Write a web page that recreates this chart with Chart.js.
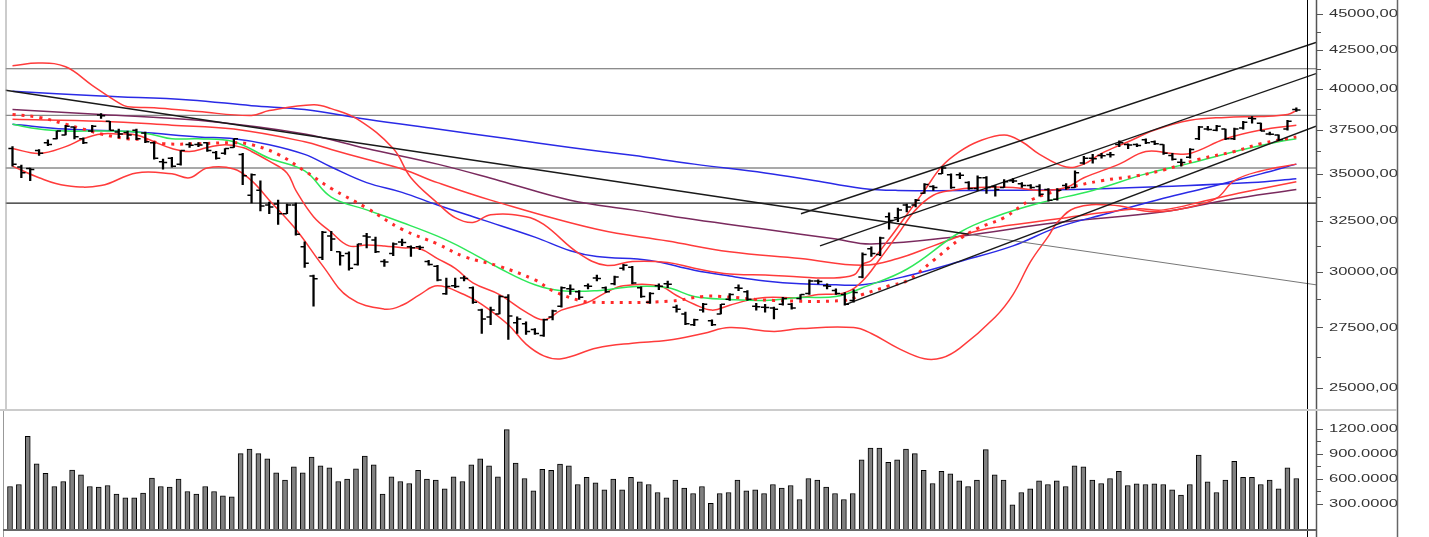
<!DOCTYPE html>
<html>
<head>
<meta charset="utf-8">
<script src="https://cdn.jsdelivr.net/npm/chart.js@4.4.1/dist/chart.umd.min.js"></script>
<style>
  html, body { margin: 0; padding: 0; background: #fff; }
  #wrap { position: relative; width: 1429px; height: 537px; overflow: hidden; }
  #priceChart { position: absolute; left: 0; top: 0; }
  #volChart { position: absolute; left: 0; top: 409px; }
</style>
</head>
<body>
<div id="wrap">
  <canvas id="priceChart" width="1429" height="409"></canvas>
  <canvas id="volChart" width="1429" height="128"></canvas>
</div>
<script>
// --- daily bars (oldest first) ---
const opens = [36410,35370,35290,36300,36750,36970,37200,37660,36970,37430,38380,38000,37370,37340,37480,37310,36750,35660,35860,35530,
  36640,36640,36750,36190,36140,36470,36080,33840,34100,33330,33380,32870,33330,31210,29810,30690,31740,30970,30880,30360,
  31740,31540,30500,30880,31450,31210,31210,30500,30270,28990,29360,29720,29270,28260,27960,28090,28830,27700,27660,27410,
  27160,27960,28430,29220,29090,29360,29720,29270,29450,30180,30220,29270,28610,29360,29450,28390,28090,27620,28260,27790,
  28090,28740,29270,29090,28430,28390,28350,28520,28520,28780,29000,29580,29360,29140,28960,28690,29770,31110,30830,32720,
  32670,33330,33330,33940,34310,35000,34940,34940,34520,34200,34780,34310,34260,34620,34460,34360,34310,34150,33630,34360,
  34260,35590,35860,36020,36080,36640,36640,36640,36920,36800,36640,36020,35640,35920,36970,37540,37480,37540,36970,37600,
  38180,37890,37260,37200,37540,38710];
const highs = [36520,35480,35320,36360,36920,37430,37770,37660,37030,37770,38470,38000,37540,37430,37540,37370,36800,35810,35920,36300,
  36750,36750,36750,36250,36410,36970,36140,35000,34620,33480,33580,33380,33430,31450,29860,31980,31980,30970,30970,31350,
  31880,31690,30590,31400,31590,31260,31260,30550,30320,29720,29720,29810,29310,28300,28390,28910,28960,27960,27750,27450,
  27870,28260,29310,29400,29140,29450,29860,29310,29810,30360,30270,29310,29050,29450,29580,28480,28170,27870,28560,27830,
  28520,29000,29400,29140,28560,28520,28390,28830,28560,28960,29630,29630,29450,29220,29050,29180,30920,31210,31690,32920,
  33170,33380,33630,34460,34360,35370,35000,35050,34570,34890,34840,34360,34680,34730,34520,34410,34410,34200,34200,34460,
  35160,35970,36080,36140,36190,36860,36690,36690,36970,36860,36640,36140,35810,36410,37710,37710,37770,37540,37600,38000,
  38290,37890,37370,37200,38060,38820];
const lows = [35420,34780,34620,36020,36580,36970,37200,36970,36690,37370,38180,37480,37030,36970,36920,36750,35810,35260,35370,35480,
  36470,36520,36250,35810,36080,36470,34410,33430,33020,32870,32320,32870,31790,30220,28430,30590,31020,30320,30090,30320,
  31160,30920,30270,30780,31260,30740,31070,30320,29580,28960,29270,29580,28560,27240,27620,28090,26990,27240,27200,27200,
  27120,27830,28390,28960,28740,29220,29580,29050,29400,30090,29450,28830,28560,29180,29270,28170,27620,27580,28170,27580,
  28090,28690,29140,28690,28260,28170,27870,28480,28300,28740,28960,29450,29220,28960,28480,28610,29720,30740,30780,32080,
  32470,32970,33220,33940,34100,35000,34200,34730,34150,34100,33940,33790,34260,34520,34260,34200,33790,33530,33580,34150,
  34260,35530,35590,35860,35920,36520,36410,36520,36690,36640,36080,35750,35420,35860,36920,37480,37430,36920,36920,37540,
  37890,37430,37200,36860,37480,38590];
const closes = [35530,35050,35240,36140,36640,37430,37710,37090,36750,37710,38330,37480,37260,37200,36970,36800,35860,35620,35420,36300,
  36600,36620,36300,35860,36410,36970,34890,34940,33280,33220,32870,33330,31830,30410,29680,31930,31590,30780,30180,31350,
  31700,30970,30480,31350,31420,31160,31180,30360,29630,29330,29330,29700,28610,27870,28260,28870,28000,27870,27330,27240,
  27830,28220,29270,29200,28830,29340,29700,29090,29770,30320,29490,28870,29000,29340,29430,28300,27660,27830,28520,27620,
  28520,28960,29250,28740,28410,28370,28300,28780,28350,28960,29580,29560,29340,29000,28520,29050,30830,30880,31640,32520,
  33070,33220,33580,34410,34260,35320,34260,34920,34200,34780,34260,34150,34570,34600,34360,34260,33890,33580,34100,34260,
  35050,35860,35840,36000,36060,36750,36610,36580,36750,36690,36140,35810,35620,36360,37660,37520,37710,36970,37540,37950,
  38150,37430,37240,36920,38000,38690];
const volumes = [508,532,1108,780,664,508,568,704,648,508,500,520,416,372,372,428,608,508,500,596,
  448,416,508,448,396,384,900,956,900,840,672,584,744,672,860,756,732,568,596,720,
  872,768,416,624,568,544,700,596,584,480,624,568,768,840,756,624,1188,788,604,456,
  712,700,776,756,532,616,552,468,596,468,616,564,532,436,372,584,488,424,508,308,
  424,436,584,456,468,424,532,488,520,352,604,584,500,424,352,424,828,968,968,796,
  828,956,900,700,544,688,660,576,508,584,948,648,584,288,436,480,576,532,576,508,
  756,744,584,544,604,688,520,540,532,540,532,468,404,532,884,564,436,584,808,616,
  616,532,584,480,732,604];

// --- indicator lines, read as [bar index, value] ---
const bandUpper = [[0,41458],[3,41642],[6,41395],[9,40212],[12,39123],[13,38885],[16,38824],[21,38588],[27,38353],[29,38647],
  [34,39004],[36,38765],[39,38120],[43,36412],[45,34782],[48,33428],[50,32671],[52,32422],[54,32821],[58,32721],[60,32324],
  [64,30876],[67,30316],[70,30501],[74,30454],[77,30177],[81,29902],[85,29857],[89,29766],[92,29720],[95,29857],[96,30362],
  [97,30547],[99,31591],[101,32821],[103,34098],[105,35425],[107,36246],[109,36803],[112,37199],[114,36803],[116,36080],
  [119,35371],[121,35533],[123,36136],[126,36803],[129,37484],[133,38061],[137,38236],[141,38295],[144,38412],[145,38647]];
const bandLower = [[0,35425],[3,34782],[6,34359],[10,34359],[14,35048],[18,34995],[20,34782],[22,35317],[25,35263],[27,34623],
  [29,33581],[32,32078],[35,30316],[38,28826],[42,28302],[44,28476],[46,28958],[48,29359],[51,28958],[53,28519],[56,27619],
  [58,26789],[60,26303],[62,26183],[66,26625],[70,26830],[74,26953],[78,27242],[81,27494],[86,27326],[89,27452],[95,27494],
  [97,27242],[100,26625],[103,26183],[105,26223],[107,26625],[111,27959],[113,28958],[115,30501],[117,31736],[118,32422],
  [120,33173],[124,33326],[129,32971],[133,33224],[136,33684],[138,34623],[141,35155],[145,35533]];
const shortRed = [[0,36412],[3,36136],[6,36523],[8,36972],[10,37256],[12,37256],[14,37199],[16,36803],[18,36412],[20,36246],
  [22,36468],[24,36635],[26,36468],[27,36246],[29,35696],[31,35048],[32,34098],[34,32721],[36,31931],[38,31255],[40,31303],
  [42,31255],[44,31160],[46,31113],[48,30641],[50,30177],[52,29494],[55,28958],[58,28173],[60,27831],[62,28259],[65,28607],
  [67,29047],[69,29359],[73,29359],[75,28914],[77,28519],[79,28259],[81,28476],[83,28694],[85,28826],[89,28826],[91,28958],
  [94,29047],[96,29584],[98,30641],[100,31833],[102,33072],[104,33839],[106,34098],[109,34255],[113,34255],[116,34098],
  [119,34255],[121,34782],[125,35533],[128,36246],[131,36136],[133,36136],[137,36972],[141,37484],[145,37772]];
const longRed = [[0,38120],[10,38003],[18,37772],[25,37541],[33,36803],[36,36357],[40,35806],[44,35263],[48,34517],[54,33581],
  [66,32078],[74,31495],[81,30971],[89,30641],[96,30316],[100,30641],[104,31255],[108,31882],[111,32176],[115,32422],
  [119,32671],[123,32921],[127,33123],[130,33072],[135,33581],[139,33994],[145,34570]];
const dottedRed = [[0,38412],[3,38236],[6,37830],[8,37541],[10,37256],[13,36972],[15,36916],[17,36691],[21,36691],[25,36747],
  [27,36635],[30,36080],[33,35155],[36,34202],[40,33173],[44,32078],[48,31351],[51,30735],[55,30269],[59,29629],[61,29136],
  [64,28694],[66,28607],[74,28650],[78,28870],[80,28870],[86,28694],[94,28694],[96,28958],[99,29359],[101,29584],[104,30547],
  [107,31591],[109,32127],[112,32671],[115,33581],[119,34202],[123,34623],[127,34888],[130,35209],[134,35806],[138,36246],
  [141,36691],[145,37085]];
const greenMa = [[0,37830],[3,37541],[6,37427],[10,37427],[14,37370],[16,37199],[18,36972],[21,36972],[25,36803],[29,35860],
  [33,35155],[36,33736],[40,33072],[44,32422],[48,31736],[51,31113],[55,30177],[59,29404],[62,29136],[66,29136],[70,29314],
  [74,29269],[77,28870],[81,28738],[85,28694],[89,28826],[93,28870],[96,29269],[101,30131],[107,31931],[111,32721],
  [116,33428],[122,34098],[128,34995],[133,35588],[139,36357],[143,36803],[145,36972]];
const blueMid = [[0,37830],[6,37541],[14,37370],[21,37085],[25,36972],[29,36635],[33,36080],[36,35371],[40,34517],[44,33994],
  [48,33326],[53,32571],[59,31688],[63,31018],[66,30735],[72,30547],[77,30085],[81,29811],[85,29584],[89,29449],[93,29404],
  [96,29404],[101,29811],[107,30501],[113,31255],[118,32176],[124,32921],[130,33684],[135,34255],[141,34995],[145,35533]];
const blueLong = [[0,39845],[10,39540],[20,39300],[27,38945],[33,38706],[40,38120],[48,37541],[56,36972],[63,36468],[70,36025],
  [77,35533],[85,35048],[90,34676],[96,34202],[100,34098],[110,34098],[120,34150],[130,34307],[140,34517],[145,34729]];
const maroonMa = [[0,38706],[10,38412],[21,38061],[33,37256],[40,36412],[48,35533],[55,34623],[63,33581],[70,33072],[77,32571],
  [85,32078],[93,31591],[97,31351],[107,31736],[118,32422],[130,32971],[137,33581],[145,34150]];

// --- drawn levels and trendlines ---
const levels = [41269, 38353, 35317, 33428];
const levelColors = ['#666', '#888', '#555', '#222'];
const downTrend = [[-0.79, 39906], [108, 31830]];
const downTrendTail = [[108, 31830], [147.22, 29404]];
const channelTop = [[89.05, 32871], [147.22, 43005]];
const channelMid = [[91.2, 31255], [147.22, 40954]];
const channelLow = [[94.13, 28519], [147.22, 37714]];

const priceTicks = [25000, 27500, 30000, 32500, 35000, 37500, 40000, 42500, 45000];
const priceMinor = [26250, 28750, 31250, 33750, 36250, 38750, 41250, 43750];
const volTicks = [300, 600, 900, 1200];
const volMinor = [450, 750, 1050];

const X_MIN = -0.79, X_MAX = 147.22;
const idx = volumes.map((_, i) => i);
const pts = arr => arr.map(([x, y]) => ({ x, y }));

function lineSet(data, color, width, extra) {
  return Object.assign({
    type: 'line', data: pts(data), borderColor: color, borderWidth: width,
    pointRadius: 0, tension: 0.4, fill: false
  }, extra || {});
}

// axis drawn by hand so the labels can be stretched like the original
function drawAxis(chart, majors, minors, fmt) {
  const { ctx, chartArea: a, scales: { y } } = chart;
  const edge = a.right + 81;
  ctx.save();
  ctx.strokeStyle = '#999'; ctx.lineWidth = 1;
  ctx.beginPath(); ctx.moveTo(a.left + 0.5, 0); ctx.lineTo(a.left + 0.5, chart.height); ctx.stroke();
  ctx.strokeStyle = '#000';
  ctx.beginPath(); ctx.moveTo(a.right - 8.5, 0); ctx.lineTo(a.right - 8.5, chart.height); ctx.stroke();
  ctx.strokeStyle = '#555'; ctx.lineWidth = 1.5;
  ctx.beginPath(); ctx.moveTo(a.right + 0.5, 0); ctx.lineTo(a.right + 0.5, chart.height); ctx.stroke();
  ctx.lineWidth = 1;
  majors.forEach(v => {
    const py = Math.round(y.getPixelForValue(v)) + 0.5;
    ctx.beginPath(); ctx.moveTo(a.right, py); ctx.lineTo(a.right + 7, py); ctx.stroke();
  });
  minors.forEach(v => {
    const py = Math.round(y.getPixelForValue(v)) + 0.5;
    ctx.beginPath(); ctx.moveTo(a.right, py); ctx.lineTo(a.right + 5, py); ctx.stroke();
  });
  ctx.fillStyle = '#333';
  ctx.font = '11px "Liberation Sans", Arial, sans-serif';
  ctx.textBaseline = 'middle';
  majors.forEach(v => {
    ctx.save();
    ctx.translate(a.right + 13, y.getPixelForValue(v));
    ctx.scale(1.5, 1);
    ctx.fillText(fmt(v), 0, 0);
    ctx.restore();
  });
  ctx.fillStyle = '#fff';
  ctx.fillRect(edge, 0, chart.width - edge, chart.height);
  ctx.strokeStyle = '#666'; ctx.lineWidth = 1.5;
  ctx.beginPath(); ctx.moveTo(edge + 0.5, 0); ctx.lineTo(edge + 0.5, chart.height); ctx.stroke();
  ctx.restore();
}

const priceFrame = {
  id: 'priceFrame',
  afterDraw(chart) {
    drawAxis(chart, priceTicks, priceMinor, v => v.toFixed(3).replace('.', ','));
  }
};

const volFrame = {
  id: 'volFrame',
  afterDraw(chart) {
    const { ctx, chartArea: a } = chart;
    drawAxis(chart, volTicks, volMinor, v => v.toFixed(4));
    ctx.save();
    ctx.strokeStyle = '#ccc'; ctx.lineWidth = 2;
    ctx.beginPath(); ctx.moveTo(0, 1); ctx.lineTo(a.right + 81, 1); ctx.stroke();
    ctx.strokeStyle = '#666'; ctx.lineWidth = 2;
    ctx.beginPath(); ctx.moveTo(a.left, a.bottom + 1); ctx.lineTo(a.right, a.bottom + 1); ctx.stroke();
    ctx.restore();
  }
};

const xScale = { type: 'linear', min: X_MIN, max: X_MAX, offset: false, display: false };

new Chart(document.getElementById('priceChart'), {
  type: 'line',
  data: {
    datasets: [
      { type: 'line', data: idx.map(i => ({ x: i - 0.24, y: opens[i] })), showLine: false,
        pointStyle: 'line', pointRadius: 2, pointBorderWidth: 1.5, pointBorderColor: '#000' },
      { type: 'line', data: idx.map(i => ({ x: i + 0.24, y: closes[i] })), showLine: false,
        pointStyle: 'line', pointRadius: 2, pointBorderWidth: 1.5, pointBorderColor: '#000' },
      { type: 'bar', data: idx.map(i => ({ x: i, y: [lows[i], highs[i]] })),
        backgroundColor: '#000', barThickness: 1.6 },
      lineSet(channelTop, '#1a1a1a', 1.4, { tension: 0 }),
      lineSet(channelMid, '#1a1a1a', 1.4, { tension: 0 }),
      lineSet(channelLow, '#1a1a1a', 1.4, { tension: 0 }),
      lineSet(downTrend, '#1a1a1a', 1.5, { tension: 0 }),
      lineSet(downTrendTail, '#777', 1, { tension: 0 }),
      lineSet(dottedRed, '#ff2a2a', 3, { borderDash: [3, 6] }),
      lineSet(greenMa, '#2ee85a', 1.5),
      lineSet(shortRed, '#ff3b3b', 1.5),
      lineSet(bandUpper, '#ff3b3b', 1.5),
      lineSet(bandLower, '#ff3b3b', 1.5),
      lineSet(longRed, '#ff3b3b', 1.5),
      lineSet(blueMid, '#2a2ae6', 1.5),
      lineSet(blueLong, '#2a2ae6', 1.5),
      lineSet(maroonMa, '#7a2a5e', 1.5),
      ...levels.map((v, k) => lineSet([[X_MIN, v], [X_MAX, v]], levelColors[k], 1.2, { tension: 0 }))
    ]
  },
  options: {
    responsive: false,
    animation: false,
    events: [],
    layout: { padding: { left: 3, right: 32, top: 0, bottom: 0 } },
    plugins: { legend: { display: false }, tooltip: { enabled: false } },
    scales: {
      x: xScale,
      y: {
        type: 'logarithmic', position: 'right', min: 24408, max: 45574, bounds: 'data',
        afterDataLimits(s) { s.min = 24408; s.max = 45574; },
        afterFit(s) { s.width = 81; },
        ticks: { display: false }, grid: { display: false }, border: { display: false }
      }
    }
  },
  plugins: [priceFrame]
});

new Chart(document.getElementById('volChart'), {
  type: 'bar',
  data: {
    datasets: [{
      data: idx.map(i => ({ x: i, y: volumes[i] })),
      backgroundColor: '#808080', borderColor: '#000', borderWidth: 1, barThickness: 5
    }]
  },
  options: {
    responsive: false,
    animation: false,
    events: [],
    layout: { padding: { left: 3, right: 32, top: 0, bottom: 8 } },
    plugins: { legend: { display: false }, tooltip: { enabled: false } },
    scales: {
      x: xScale,
      y: {
        position: 'right', min: 0, max: 1434,
        afterDataLimits(s) { s.min = 0; s.max = 1434; },
        afterFit(s) { s.width = 81; },
        ticks: { display: false }, grid: { display: false }, border: { display: false }
      }
    }
  },
  plugins: [volFrame]
});
</script>
</body>
</html>
